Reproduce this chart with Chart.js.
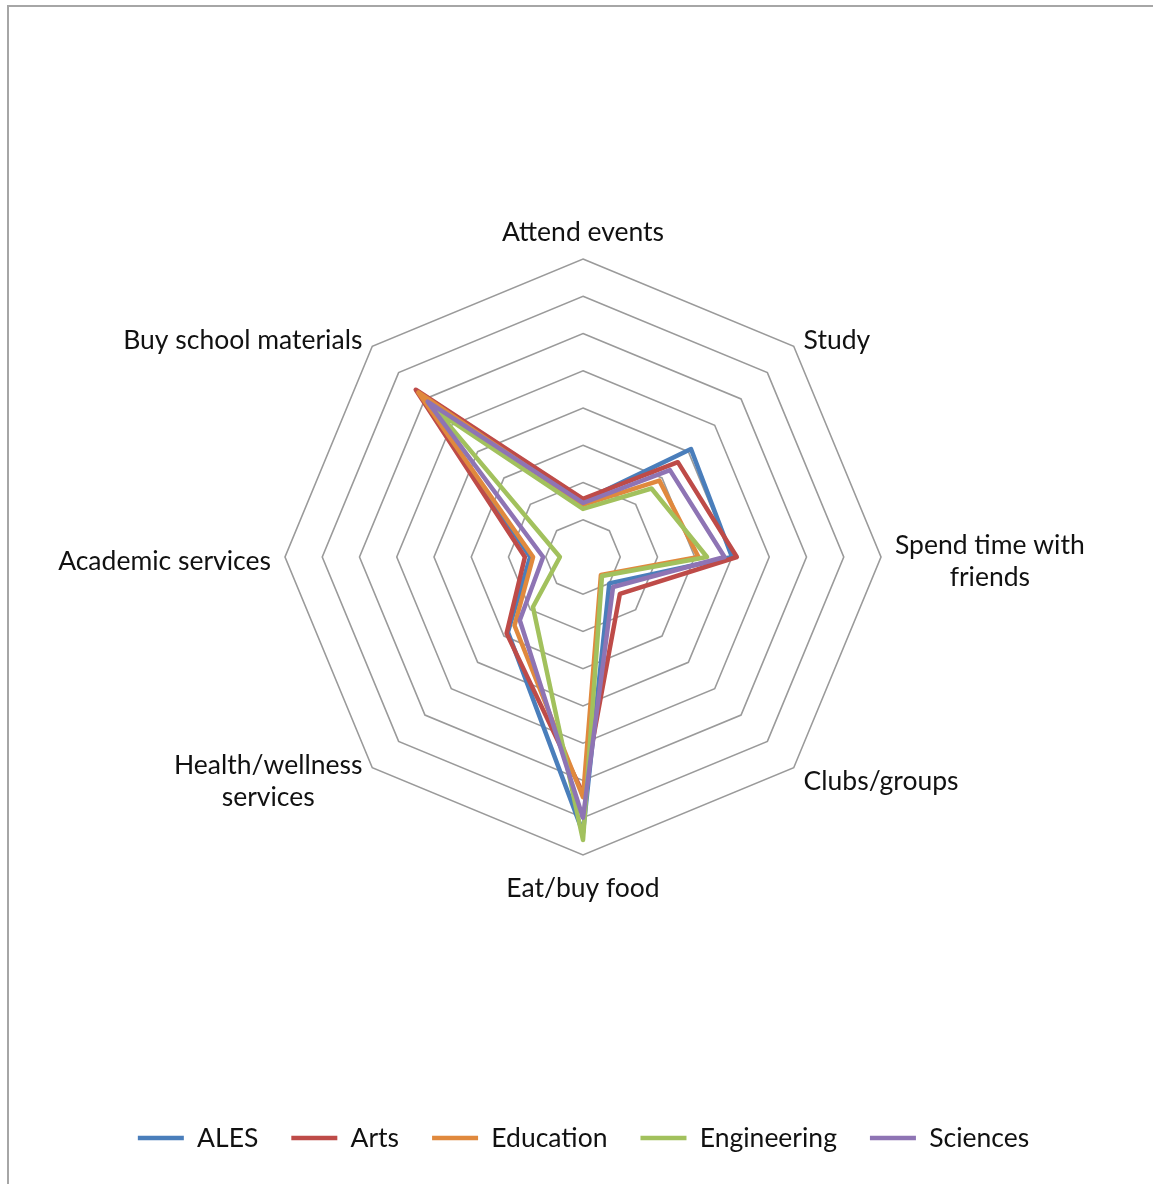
<!DOCTYPE html>
<html>
<head>
<meta charset="utf-8">
<script src="https://cdn.jsdelivr.net/npm/chart.js@4/dist/chart.umd.min.js"></script>
<style>
  html, body { margin: 0; padding: 0; background: #fff; }
  #frame {
    position: absolute; left: 7px; top: 5px; width: 1200px; height: 1250px;
    border-left: 2px solid #a6a6a6; border-top: 2px solid #a6a6a6;
  }
  #chart { position: absolute; left: 0; top: 0; }
</style>
</head>
<body>
<div id="frame"></div>
<canvas id="chart" width="1153" height="1184"></canvas>
<script>
// axis labels, clockwise from the top (multi-line ones as arrays)
const AXES = [
  'Attend events',
  'Study',
  ['Spend time with', 'friends'],
  'Clubs/groups',
  'Eat/buy food',
  ['Health/wellness', 'services'],
  'Academic services',
  'Buy school materials'
]

// values (0 = centre, 8 = outer ring)
const ALES        = [1.5, 4.1, 4.0, 1.0, 7.4, 2.85, 1.42, 6.1]
const ARTS        = [1.56, 3.6, 4.13, 1.4, 6.35, 2.9, 1.56, 6.35]
const EDUCATION   = [1.4, 2.9, 3.1, 0.68, 6.45, 2.6, 1.34, 6.25]
const ENGINEERING = [1.29, 2.6, 3.33, 0.72, 7.6, 1.9, 0.62, 5.5]
const SCIENCES    = [1.45, 3.3, 3.8, 1.14, 7.0, 2.4, 1.07, 5.9]

const SERIES = [
  { label: 'ALES',        data: ALES,        color: '#4A7EBB' },
  { label: 'Arts',        data: ARTS,        color: '#BE4B48' },
  { label: 'Education',   data: EDUCATION,   color: '#E0893D' },
  { label: 'Engineering', data: ENGINEERING, color: '#A2C15D' },
  { label: 'Sciences',    data: SCIENCES,    color: '#8E74B4' },
]

const FONT = 'Lato, "Open Sans", sans-serif'
const FONT_SIZE = 26.5

// draws the axis labels at the scale's own point positions, lines centred in their block
const axisLabels = {
  id: 'axisLabels',
  afterDraw(chart) {
    const scale = chart.scales.r
    const ctx = chart.ctx
    const lineH = 32
    ctx.save()
    ctx.font = FONT_SIZE + 'px ' + FONT
    ctx.fillStyle = '#111'
    ctx.textBaseline = 'middle'
    ctx.textAlign = 'center'
    AXES.forEach((lab, i) => {
      const lines = Array.isArray(lab) ? lab : [lab]
      const w = Math.max(...lines.map(l => ctx.measureText(l).width))
      const h = lines.length * lineH
      const pt = scale.getPointPosition(i, scale.drawingArea + 14)
      let cx = pt.x, cy = pt.y + 4
      if (i === 0) cy = pt.y - h / 2 + 3
      else if (i === 4) cy = pt.y + h / 2 + 3
      else if (i < 4) cx = pt.x + w / 2
      else cx = pt.x - w / 2
      lines.forEach((l, k) => {
        ctx.fillText(l, cx, cy - h / 2 + lineH / 2 + k * lineH)
      })
    })
    ctx.restore()
  }
}

new Chart(document.getElementById('chart'), {
  type: 'radar',
  data: {
    labels: AXES,
    datasets: SERIES.map((s, i) => ({
      label: s.label,
      data: s.data,
      borderColor: s.color,
      backgroundColor: s.color,
      borderWidth: 4.5,
      borderJoinStyle: 'round',
      borderCapStyle: 'round',
      pointRadius: 0,
      fill: false,
      order: SERIES.length - 1 - i  // later series drawn on top
    }))
  },
  options: {
    responsive: false,
    animation: false,
    layout: { padding: { top: 259, bottom: 22.75, left: 14, right: 0 } },
    scales: {
      r: {
        min: 0,
        max: 8,
        ticks: { display: false, stepSize: 1 },
        grid: { color: '#9a9a9a', lineWidth: 1.6 },
        angleLines: { display: false },
        pointLabels: { display: false }
      }
    },
    plugins: {
      tooltip: { enabled: false },
      legend: {
        position: 'bottom',
        reverse: true,
        title: { display: true, text: '', font: { size: 10 }, padding: { top: 224.75, bottom: 0 } },
        labels: {
          usePointStyle: true,
          pointStyle: 'line',
          pointStyleWidth: 46,
          boxHeight: FONT_SIZE,
          padding: 33,
          color: '#111',
          font: { family: FONT, size: FONT_SIZE }
        }
      }
    }
  },
  plugins: [axisLabels]
})
</script>
</body>
</html>
